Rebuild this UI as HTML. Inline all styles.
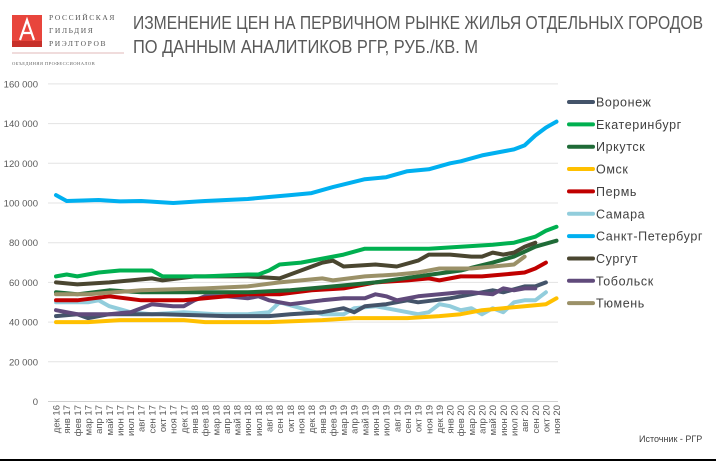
<!DOCTYPE html>
<html><head><meta charset="utf-8"><style>
html,body{margin:0;padding:0;background:#fff;width:716px;height:461px;overflow:hidden}
svg{display:block;font-family:"Liberation Sans","DejaVu Sans",sans-serif}
</style></head><body>
<svg id="s" width="716" height="461" viewBox="0 0 716 461" xmlns="http://www.w3.org/2000/svg">
<rect width="716" height="461" fill="#fff"/>
<rect x="12" y="15" width="30" height="32" fill="#e8453c"/>
<path d="M20 40 L27 20 L34 40 M23 33 L31 33" stroke="#fff" stroke-width="2.2" fill="none"/>
<rect x="12" y="41" width="30" height="6" fill="#c7302a"/>
<text x="49" y="20" font-size="7.5" fill="#555" letter-spacing="1.6" font-family="Liberation Serif,serif">РОССИЙСКАЯ</text>
<text x="49" y="33" font-size="7.5" fill="#555" letter-spacing="1.6" font-family="Liberation Serif,serif">ГИЛЬДИЯ</text>
<text x="49" y="46" font-size="7.5" fill="#555" letter-spacing="1.6" font-family="Liberation Serif,serif">РИЭЛТОРОВ</text>
<line x1="12" y1="53" x2="124" y2="53" stroke="#d9a0a0" stroke-width="0.8"/>
<text x="12" y="65" font-size="4.6" fill="#666" letter-spacing="0.4" font-family="Liberation Serif,serif">ОБЪЕДИНЯЯ ПРОФЕССИОНАЛОВ</text>
<text x="133" y="29" font-size="18" fill="#595959" textLength="570" lengthAdjust="spacingAndGlyphs">ИЗМЕНЕНИЕ ЦЕН НА ПЕРВИЧНОМ РЫНКЕ ЖИЛЬЯ ОТДЕЛЬНЫХ ГОРОДОВ</text>
<text x="133" y="53" font-size="18" fill="#595959" textLength="345" lengthAdjust="spacingAndGlyphs">ПО ДАННЫМ АНАЛИТИКОВ РГР, РУБ./КВ. М</text>
<g id="grid"></g>
<g id="lines" fill="none" stroke-width="4" stroke-linejoin="round" stroke-linecap="round"></g>
<g id="leg"></g>
<text x="639" y="442" font-size="9" fill="#404040">Источник - РГР</text>
<rect x="0" y="459" width="716" height="2" fill="#000"/>
</svg>
<script>
var NS="http://www.w3.org/2000/svg",s=document.getElementById('s');
function el(p,t,a,txt){var e=document.createElementNS(NS,t);for(var k in a)e.setAttribute(k,a[k]);if(txt)e.textContent=txt;document.getElementById(p).appendChild(e);return e;}
function Y(v){return 401.5-v*39.7/20;}
function X(i){return 56+i*10.65;}
for(var v=0;v<=160;v+=20){var y=Y(v);
 el('grid','line',{x1:48,x2:558,y1:y,y2:y,stroke:v==0?'#d0d0d0':'#e3e3e3','stroke-width':1});
 el('grid','text',{x:38,y:y+3.5,'font-size':9.5,fill:'#595959','text-anchor':'end'},v==0?'0':v+' 000');}
var m=['янв','фев','мар','апр','май','июн','июл','авг','сен','окт','ноя','дек'];
for(var i=0;i<48;i++){var mi=(11+i)%12,yr=16+Math.floor((11+i)/12);
 var x=X(i)+3.5;el('grid','text',{x:0,y:0,'font-size':9.5,fill:'#595959','text-anchor':'end',transform:'translate('+x+',405) rotate(-90)'},m[mi]+' '+yr);}
var S=[
['Воронеж','#44546a',[[0,43],[2,44],[3,42],[5,44],[10,44],[16,43],[20,43],[22,44],[25,45],[27,47],[28,45],[29,48],[31,49],[33,51],[34,50],[37,52],[40,55],[41,56],[42,55],[44,58],[45,58],[46,60]]],
['Екатеринбург','#00b050',[[0,63],[1,64],[2,63],[4,65],[6,66],[9,66],[10,63],[14,63],[18,64],[19,64],[20,66],[21,69],[23,70],[25,72],[27,74],[29,77],[32,77],[35,77],[38,78],[41,79],[43,80],[45,83],[46,86],[47,88]]],
['Иркутск','#1f6b37',[[0,55],[2,54],[5,56],[8,55],[12,55],[18,55],[22,56],[26,58],[30,60],[34,63],[38,66],[41,70],[43,73],[45,78],[47,81]]],
['Омск','#ffc000',[[0,40],[2,40],[3,40],[6,41],[12,41],[14,40],[20,40],[25,41],[28,42],[33,42],[36,43],[38,44],[40,46],[42,47],[44,48],[46,49],[47,52]]],
['Пермь','#c00000',[[0,51],[2,51],[5,53],[8,51],[12,51],[16,53],[18,54],[21,54],[24,56],[27,57],[30,60],[33,61],[35,62],[36,61],[38,63],[40,63],[42,64],[44,65],[45,67],[46,70]]],
['Самара','#92cddc',[[0,50],[3,50],[4,51],[5,48],[7,45],[9,44],[12,45],[15,44],[18,44],[20,45],[21,50],[23,47],[25,44],[27,44],[28,47],[30,48],[32,46],[34,44],[35,45],[36,49],[37,48],[38,46],[39,47],[40,44],[41,47],[42,45],[43,50],[44,51],[45,51],[46,55]]],
['Санкт-Петербург','#00b0f0',[[0,104],[1,101],[4,101.5],[6,100.8],[8,101],[11,100],[14,101],[18,102],[20,103],[22,104],[24,105],[26,108],[29,112],[31,113],[33,116],[35,117],[37,120],[38,121],[40,124],[42,126],[43,127],[44,129],[45,134],[46,138],[47,141]]],
['Сургут','#4a4630',[[0,60],[2,59],[5,60],[9,62],[10,61],[13,63],[18,63],[21,62],[23,66],[25,70],[26,71],[27,68],[30,69],[32,68],[34,71],[35,74],[37,74],[39,73],[40,73],[41,75],[42,74],[43,75],[44,78],[45,80]]],
['Тобольск','#604a7b',[[0,46],[2,44],[5,44],[7,45],[9,49],[11,48],[12,48],[13,51],[14,53],[16,53],[18,52],[19,53],[20,51],[21,50],[22,49],[25,51],[27,52],[29,52],[30,54],[31,53],[32,51],[34,53],[36,54],[38,55],[39,55],[41,54],[42,57],[43,56],[44,57],[45,57]]],
['Тюмень','#9b9168',[[0,54],[3,54],[8,56],[14,57],[18,58],[21,60],[23,61],[25,62],[26,61],[29,63],[32,64],[34,65],[36,67],[39,67],[41,68],[43,69],[44,73]]]];
var order=[5,0,8,3,4,2,9,7,1,6];
order.forEach(function(k){var d=S[k][2];el('lines','polyline',{stroke:S[k][1],points:d.map(function(p){return X(p[0]).toFixed(1)+','+Y(p[1]).toFixed(1)}).join(' ')});});
S.forEach(function(sr,k){var y=102+k*22.35;
 el('leg','line',{x1:569,x2:593,y1:y,y2:y,stroke:sr[1],'stroke-width':4,'stroke-linecap':'round'});
 el('leg','text',{x:596,y:y+4.5,'font-size':12.5,fill:'#404040','letter-spacing':0.6},sr[0]);});
</script>
</body></html>
